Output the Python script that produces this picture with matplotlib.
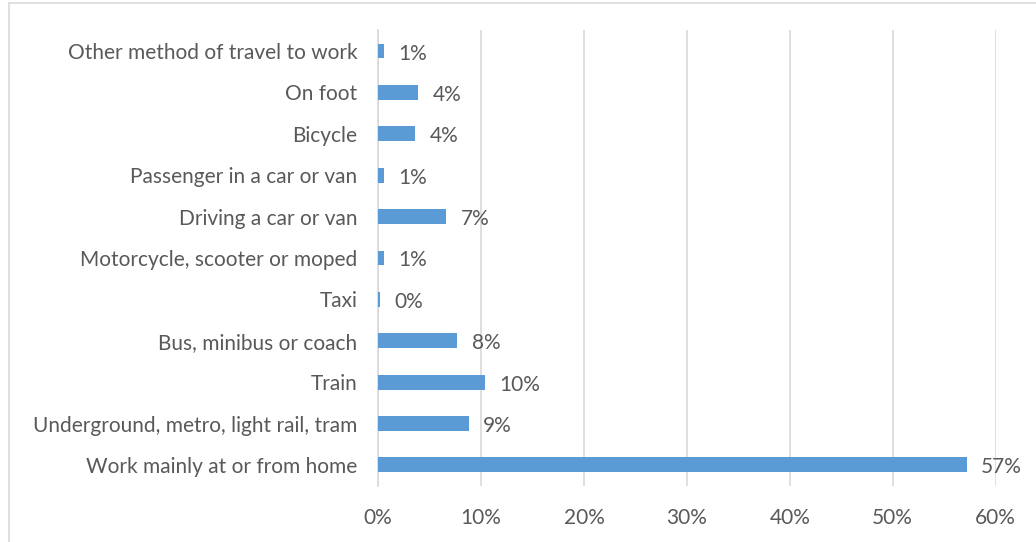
import matplotlib
matplotlib.use("Agg")
import matplotlib.pyplot as plt
from matplotlib.patches import Rectangle
from matplotlib.ticker import FuncFormatter

# ── Data (top to bottom as shown) ─────────────────────────────────────────────
modes = [
    "Other method of travel to work",
    "On foot",
    "Bicycle",
    "Passenger in a car or van",
    "Driving a car or van",
    "Motorcycle, scooter or moped",
    "Taxi",
    "Bus, minibus or coach",
    "Train",
    "Underground, metro, light rail, tram",
    "Work mainly at or from home",
]
share = [0.6, 3.9, 3.6, 0.6, 6.6, 0.6, 0.2, 7.7, 10.4, 8.8, 57.2]
x_ticks = [0, 10, 20, 30, 40, 50, 60]

BAR = "#5B9BD5"
TXT = "#595959"
GRID = "#D9D9D9"

plt.rcParams["font.family"] = ["Lato", "DejaVu Sans"]

fig = plt.figure(figsize=(10.36, 5.42), dpi=100)
ax = fig.add_axes([0.365, 0.104, 0.596, 0.840])

# bottom-most category first so the list order reads top-down
ypos = list(range(len(modes)))[::-1]
ax.barh(ypos, share, height=0.36, color=BAR, zorder=3)

for y, v in zip(ypos, share):
    ax.text(v + 1.4, y - 0.06, f"{round(v):.0f}%", va="center", ha="left",
            fontsize=15, color=TXT)

ax.set_xlim(0, 60)
ax.set_ylim(-0.5, len(modes) - 0.5)
ax.set_xticks(x_ticks)
ax.xaxis.set_major_formatter(FuncFormatter(lambda v, _: f"{v:.0f}%"))
ax.set_yticks(ypos)
ax.set_yticklabels(modes)

ax.grid(axis="x", color=GRID, linewidth=1.2, zorder=0)
ax.tick_params(length=0, labelsize=15, colors=TXT)
ax.tick_params(axis="x", pad=16)
ax.tick_params(axis="y", pad=15)
for side in ["top", "right", "bottom"]:
    ax.spines[side].set_visible(False)
ax.spines["left"].set_color(GRID)
ax.spines["left"].set_linewidth(1.2)

# thin chart-area border
fig.patches.append(Rectangle((9 / 1036, -0.01), 1.02, 1 - 3 / 542 + 0.01,
                             transform=fig.transFigure, fill=False,
                             edgecolor="#D9D9D9", linewidth=1.2))

fig.savefig("out.png", dpi=100)
